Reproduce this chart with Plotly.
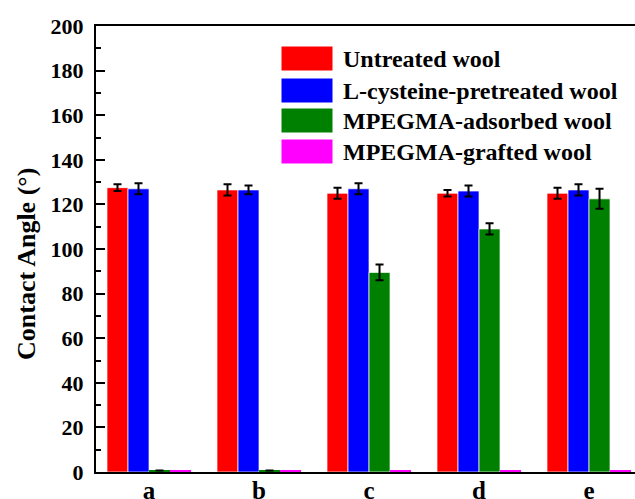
import plotly.graph_objects as go

categories = ["a", "b", "c", "d", "e"]
series_names = ["Untreated wool", "L-cysteine-pretreated wool",
                "MPEGMA-adsorbed wool", "MPEGMA-grafted wool"]
untreated = [127.5, 126.5, 125.0, 125.0, 125.0]
untreated_err = [1.5, 2.5, 2.5, 1.5, 2.5]
cysteine = [127.0, 126.5, 127.0, 126.0, 126.5]
cysteine_err = [2.5, 2.0, 2.5, 2.5, 2.5]
adsorbed = [0.7, 0.7, 89.5, 109.0, 122.5]
adsorbed_err = [0, 0, 3.5, 2.5, 4.5]
grafted = [0.7, 0.7, 0.7, 0.7, 0.7]
grafted_err = [0, 0, 0, 0, 0]

colors = ["#FF0000", "#0000FF", "#008000", "#FF00FF"]
values = [untreated, cysteine, adsorbed, grafted]
errors = [untreated_err, cysteine_err, adsorbed_err, grafted_err]

W, H = 635, 499
L, T, B, R = 96, 26, 27, 0
PW, PH = W - L - R, H - T - B

FONT = dict(family="Liberation Serif", color="black", weight="bold")

fig = go.Figure()
for name, vals, errs, col in zip(series_names, values, errors, colors):
    has_err = any(e > 0 for e in errs)
    fig.add_trace(go.Bar(
        x=categories, y=vals, name=name,
        marker=dict(color=col,
                    line=dict(color="rgba(255,255,255,0.7)",
                              width=[1 if v > 2 else 0 for v in vals])),
        error_y=dict(type="data", array=errs, visible=has_err, color="black",
                     thickness=2, width=4),
        showlegend=False,
    ))

def px_x(x):
    return (x - L) / PW

def px_y(y):
    return 1 - (y - T) / PH

shapes = []
annotations = []
sw_x0, sw_x1 = 281, 333
sw_tops = [46, 78, 108, 139]
for i, (name, col) in enumerate(zip(series_names, colors)):
    y0 = sw_tops[i]
    y1 = y0 + 25
    shapes.append(dict(type="rect", xref="paper", yref="paper",
                       x0=px_x(sw_x0), x1=px_x(sw_x1),
                       y0=px_y(y1), y1=px_y(y0),
                       fillcolor=col, line=dict(color="white", width=1)))
    annotations.append(dict(xref="paper", yref="paper", x=px_x(341),
                            y=px_y((y0 + y1) / 2), text=name, showarrow=False,
                            xanchor="left", yanchor="middle",
                            font=dict(size=24, **FONT)))

annotations.append(dict(xref="paper", yref="paper", x=px_x(26), y=px_y(264),
                        text="Contact Angle (°)", showarrow=False,
                        textangle=-90, xanchor="center", yanchor="middle",
                        font=dict(size=26, **FONT)))

fig.update_layout(
    width=W, height=H,
    margin=dict(l=L, r=R, t=T, b=B, autoexpand=False),
    plot_bgcolor="white", paper_bgcolor="white",
    barmode="group", bargap=0.236, bargroupgap=0,
    shapes=shapes, annotations=annotations,
    showlegend=False,
    xaxis=dict(range=[-0.482, 4.418], showline=True, linecolor="black",
               linewidth=2, mirror=True, ticks="", showgrid=False,
               zeroline=False, tickfont=dict(size=25, **FONT),
               ticklabelstandoff=-5, layer="below traces"),
    yaxis=dict(range=[0, 200], dtick=20, showline=True, linecolor="black",
               linewidth=2, mirror=False, ticks="inside", ticklen=9,
               tickwidth=2, tickcolor="black", showgrid=False, zeroline=False,
               tickfont=dict(size=22, **FONT), ticklabelstandoff=6,
               minor=dict(dtick=10, ticks="inside", ticklen=5, tickwidth=2,
                          tickcolor="black", showgrid=False)),
)

fig.write_html("out.html")
